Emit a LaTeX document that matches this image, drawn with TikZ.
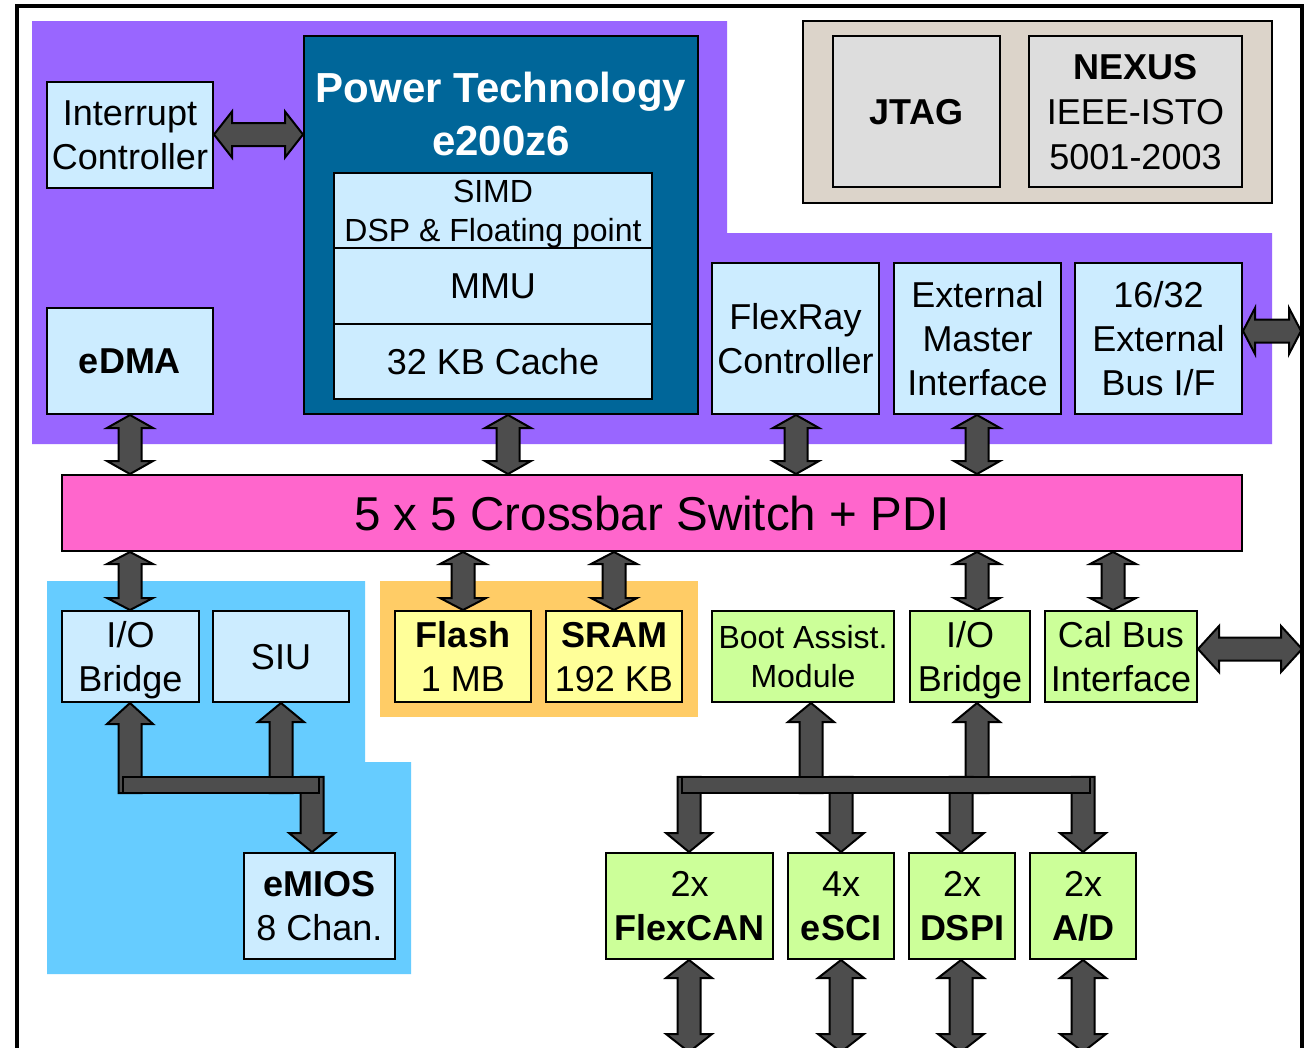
\documentclass[tikz,border=0pt]{standalone}
\usepackage{fontspec}
\setmainfont{Liberation Sans}
\usetikzlibrary{calc}
\definecolor{purp}{HTML}{9966FF}
\definecolor{ptblue}{HTML}{006699}
\definecolor{lblue}{HTML}{CCECFF}
\definecolor{xpink}{HTML}{FF66CC}
\definecolor{sky}{HTML}{66CCFF}
\definecolor{orng}{HTML}{FFCC66}
\definecolor{ylw}{HTML}{FFFF99}
\definecolor{grn}{HTML}{CCFF99}
\definecolor{taupe}{HTML}{DCD4CA}
\definecolor{jgray}{HTML}{DDDDDD}
\definecolor{agray}{HTML}{4D4D4D}
\tikzset{
  box/.style={draw=black,line width=2pt,fill=lblue,inner sep=0pt,align=center,text depth=0pt,
    font=\fontsize{36}{44}\selectfont},
  fat/.style={draw=black,line width=2pt,fill=agray,line join=miter},
}
% node box from pixel corners
\newcommand\blk[7][]{\node[box,#1,minimum width={(#4-#2)*1pt},minimum height={(#5-#3)*1pt}] (#6) at ({(#2+#4)/2},{(#3+#5)/2}) {#7};}
% vertical double arrow: x, top anchor, bottom anchor, head length
\newcommand\vdbl[4]{\draw[fat] let \p1=(#2), \p2=(#3) in
 ({#1*1pt},\y1) -- ({#1*1pt+23pt},{\y1-#4}) -- ({#1*1pt+11.5pt},{\y1-#4}) -- ({#1*1pt+11.5pt},{\y2+#4}) -- ({#1*1pt+23pt},{\y2+#4}) -- ({#1*1pt},\y2) -- ({#1*1pt-23pt},{\y2+#4}) -- ({#1*1pt-11.5pt},{\y2+#4}) -- ({#1*1pt-11.5pt},{\y1-#4}) -- ({#1*1pt-23pt},{\y1-#4}) -- cycle;}
% single arrow pointing down: x, start anchor (top), tip anchor (bottom), head length
\newcommand\vdown[4]{\draw[fat] let \p1=(#2), \p2=(#3) in
 ({#1*1pt-11.5pt},\y1) -- ({#1*1pt+11.5pt},\y1) -- ({#1*1pt+11.5pt},{\y2+#4}) -- ({#1*1pt+23pt},{\y2+#4}) -- ({#1*1pt},\y2) -- ({#1*1pt-23pt},{\y2+#4}) -- ({#1*1pt-11.5pt},{\y2+#4}) -- cycle;}
% single arrow pointing up: x, start anchor (bottom), tip anchor (top), head length
\newcommand\vup[4]{\draw[fat] let \p1=(#2), \p2=(#3) in
 ({#1*1pt-11.5pt},\y1) -- ({#1*1pt+11.5pt},\y1) -- ({#1*1pt+11.5pt},{\y2-#4}) -- ({#1*1pt+23pt},{\y2-#4}) -- ({#1*1pt},\y2) -- ({#1*1pt-23pt},{\y2-#4}) -- ({#1*1pt-11.5pt},{\y2-#4}) -- cycle;}
% horizontal double arrow: y, left anchor, right anchor, head length
\newcommand\hdbl[4]{\draw[fat] let \p1=(#2), \p2=(#3) in
 (\x1,{-#1*1pt}) -- ({\x1+#4},{-#1*1pt+23pt}) -- ({\x1+#4},{-#1*1pt+11.5pt}) -- ({\x2-#4},{-#1*1pt+11.5pt}) -- ({\x2-#4},{-#1*1pt+23pt}) -- (\x2,{-#1*1pt}) -- ({\x2-#4},{-#1*1pt-23pt}) -- ({\x2-#4},{-#1*1pt-11.5pt}) -- ({\x1+#4},{-#1*1pt-11.5pt}) -- ({\x1+#4},{-#1*1pt-23pt}) -- cycle;}
\begin{document}
\begin{tikzpicture}[x=1pt,y=-1pt]
\useasboundingbox (0,0) rectangle (1305,1047);
\clip (0,0) rectangle (1305,1047);
\fill[white] (0,0) rectangle (1305,1047);
% regions
\fill[purp] (32,21) -- (727,21) -- (727,233) -- (1272,233) -- (1272,444) -- (32,444) -- cycle;
\fill[sky] (47,581) -- (365,581) -- (365,762) -- (411,762) -- (411,974) -- (47,974) -- cycle;
\fill[orng] (380,581) rectangle (698,717);
\draw[fill=taupe,line width=2pt] (803,21) rectangle (1272,203);
% outer frame
\draw[line width=4pt,line join=miter] (17,1070) -- (17,6) -- (1302,6) -- (1302,1070);
% blocks
\blk{47}{82}{213}{188}{ic}{Interrupt\\Controller}
\blk{47}{308}{213}{414}{edma}{\textbf{eDMA}}
\blk[fill=ptblue]{304}{36}{698}{414}{pt}{}
\node[text=white,font=\bfseries\fontsize{42}{53}\selectfont,align=center,inner sep=0pt] (pttxt) at (501,114) {Power Technology\\e200z6};
\blk[font=\fontsize{32}{39}\selectfont]{334}{173}{652}{248}{simd}{SIMD\\DSP \& Floating point}
\blk{334}{248}{652}{324}{mmu}{MMU}
\blk{334}{324}{652}{399}{cache}{32 KB Cache}
\blk[fill=jgray]{833}{36}{1000}{187}{jtag}{\textbf{JTAG}}
\blk[fill=jgray,font=\fontsize{36}{45}\selectfont]{1029}{36}{1242}{187}{nexus}{\textbf{NEXUS}\\IEEE-ISTO\\5001-2003}
\blk{712}{263}{879}{414}{flexray}{FlexRay\\Controller}
\blk{894}{263}{1061}{414}{emi}{External\\Master\\Interface}
\blk{1075}{263}{1242}{414}{ebus}{16/32\\External\\Bus I/F}
\blk[fill=xpink,font=\fontsize{47.5}{56}\selectfont]{62}{475}{1242}{551}{xbar}{5 x 5 Crossbar Switch + PDI}
\blk{62}{611}{199}{702}{iob1}{I/O\\Bridge}
\blk{213}{611}{349}{702}{siu}{SIU}
\blk[fill=ylw]{395}{611}{531}{702}{flash}{\textbf{Flash}\\1 MB}
\blk[fill=ylw]{546}{611}{682}{702}{sram}{\textbf{SRAM}\\192 KB}
\blk[fill=grn,font=\fontsize{32}{39}\selectfont]{712}{611}{894}{702}{boot}{Boot Assist.\\Module}
\blk[fill=grn]{910}{611}{1030}{702}{iob2}{I/O\\Bridge}
\blk[fill=grn]{1045}{611}{1197}{702}{cal}{Cal Bus\\Interface}
\blk{244}{853}{395}{959}{emios}{\textbf{eMIOS}\\8 Chan.}
\blk[fill=grn]{606}{853}{773}{959}{flexcan}{2x\\\textbf{FlexCAN}}
\blk[fill=grn]{788}{853}{894}{959}{esci}{4x\\\textbf{eSCI}}
\blk[fill=grn]{909}{853}{1015}{959}{dspi}{2x\\\textbf{DSPI}}
\blk[fill=grn]{1030}{853}{1136}{959}{ad}{2x\\\textbf{A/D}}
% free ends
\coordinate (ebc) at (1301,331);
\coordinate (cbc) at (1302,649);
\coordinate (bot) at (0,1052);
% horizontal arrows
\hdbl{134.5}{ic.east}{pt.west}{18pt}
\hdbl{331}{ebus.east}{ebc}{12pt}
\hdbl{649}{cal.east}{cbc}{21pt}
% crossbar arrows
\vdbl{130}{edma.south}{xbar.north}{13pt}
\vdbl{508}{pt.south}{xbar.north}{13pt}
\vdbl{796}{flexray.south}{xbar.north}{13pt}
\vdbl{977}{emi.south}{xbar.north}{13pt}
\vdbl{130}{xbar.south}{iob1.north}{12pt}
\vdbl{463}{xbar.south}{flash.north}{12pt}
\vdbl{614}{xbar.south}{sram.north}{12pt}
\vdbl{977}{xbar.south}{iob2.north}{12pt}
\vdbl{1113}{xbar.south}{cal.north}{12pt}
% left bus
\node[minimum width=196pt,minimum height=16pt,inner sep=0pt] (bus1) at (221,785) {};
\vup{130}{bus1.south}{iob1.south}{21pt}
\vup{281}{bus1.south}{siu.south}{19pt}
\vdown{312}{bus1.north}{emios.north}{19pt}
\draw[fat] (bus1.north west) rectangle (bus1.south east);
% right bus
\node[minimum width=408pt,minimum height=16pt,inner sep=0pt] (bus2) at (886,785) {};
\vup{811}{bus2.south}{boot.south}{19pt}
\vup{977}{bus2.south}{iob2.south}{19pt}
\vdown{689}{bus2.north}{flexcan.north}{19pt}
\vdown{841}{bus2.north}{esci.north}{19pt}
\vdown{961}{bus2.north}{dspi.north}{19pt}
\vdown{1083}{bus2.north}{ad.north}{19pt}
\draw[fat] (bus2.north west) rectangle (bus2.south east);
% bottom arrows
\vdbl{689}{flexcan.south}{bot}{18pt}
\vdbl{841}{esci.south}{bot}{18pt}
\vdbl{961}{dspi.south}{bot}{18pt}
\vdbl{1083}{ad.south}{bot}{18pt}
\end{tikzpicture}
\end{document}
